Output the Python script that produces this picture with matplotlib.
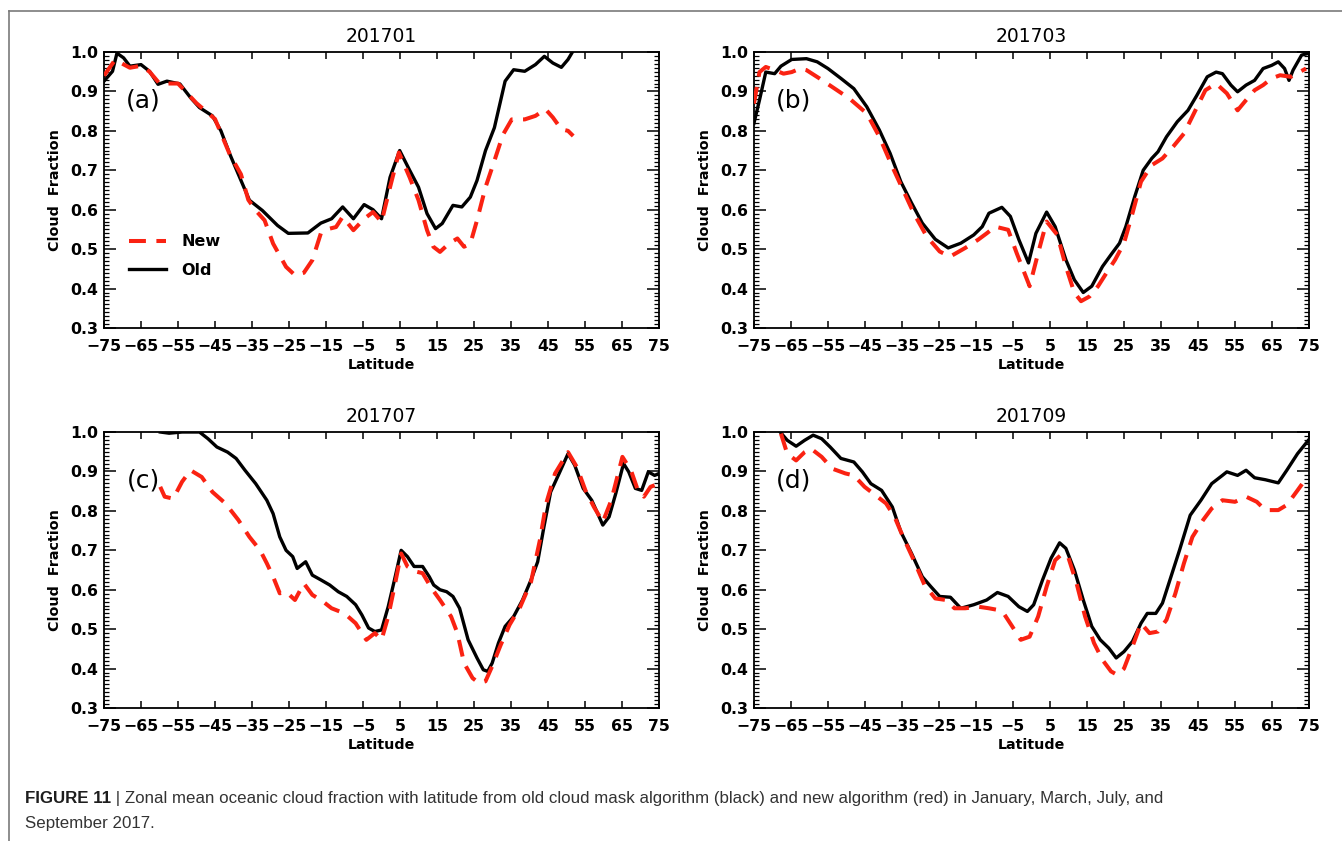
import matplotlib
matplotlib.use("Agg")
import matplotlib.pyplot as plt
from matplotlib.lines import Line2D
from matplotlib.ticker import MultipleLocator

plt.rcParams['font.family'] = ['DejaVu Sans']
plt.rcParams['axes.unicode_minus'] = True

# ---- data (latitude, cloud fraction) ----
titles = ["201701", "201703", "201707", "201709"]
panel_tags = ["(a)", "(b)", "(c)", "(d)"]

# 201701
lat_a_old = [-75, -72.7, -71.5, -69.7, -68, -65, -62.7, -60.4, -58, -54.5, -51.6, -49.2, -45.7, -43.4,
             -41, -38.7, -35.7, -32.2, -28.1, -25.2, -19.9, -16.4, -13.5, -10.5, -7.6, -4.7, -2.3, 0,
             2.3, 4.9, 7.6, 10, 12.3, 14.6, 16.4, 19.3, 21.7, 24, 25.8, 28.1, 30.5, 33.4, 35.7, 38.7,
             41.6, 44, 46.3, 48.6, 50.4, 51.6]
cf_a_old = [0.926, 0.951, 0.997, 0.985, 0.964, 0.968, 0.951, 0.918, 0.926, 0.919, 0.884, 0.859, 0.838, 0.80,
            0.741, 0.69, 0.624, 0.598, 0.56, 0.54, 0.541, 0.566, 0.577, 0.607, 0.577, 0.613, 0.60, 0.577,
            0.682, 0.75, 0.70, 0.657, 0.59, 0.552, 0.565, 0.611, 0.607, 0.632, 0.674, 0.75, 0.808, 0.926,
            0.955, 0.951, 0.968, 0.989, 0.972, 0.961, 0.981, 1.0]
lat_a_new = [-75, -72, -68, -65, -62.7, -60, -55, -50, -45, -41, -38, -36, -34, -31.6, -29.3, -25.8,
             -23.4, -21, -18.7, -16.4, -14, -12.3, -10.5, -7.6, -4.7, -2.3, 0, 2.3, 4.7, 7.6, 10, 12.3,
             14, 15.8, 18.2, 20.5, 22.3, 24, 25.8, 28.1, 30.5, 32.8, 35.2, 38.7, 41.6, 44.3, 46.3, 48.6,
             50.4, 51.8]
cf_a_new = [0.94, 0.98, 0.96, 0.965, 0.95, 0.92, 0.92, 0.87, 0.83, 0.74, 0.69, 0.625, 0.598, 0.573, 0.514,
            0.455, 0.434, 0.44, 0.472, 0.54, 0.552, 0.556, 0.582, 0.548, 0.577, 0.594, 0.569, 0.657, 0.745,
            0.682, 0.624, 0.548, 0.506, 0.493, 0.514, 0.527, 0.506, 0.514, 0.573, 0.657, 0.724, 0.79,
            0.829, 0.829, 0.838, 0.855, 0.834, 0.804, 0.80, 0.787]

# 201703
lat_b_old = [-75, -73.5, -71.8, -69.4, -67.7, -64.8, -60.8, -57.9, -55, -51.5, -48, -44.5, -41.1, -38.2,
             -35.3, -32.4, -29.5, -26, -22.5, -19.1, -15.6, -13.3, -11.5, -8, -5.7, -3.4, -0.8, 1.2, 4.1,
             6.4, 9.3, 11.6, 14, 16.3, 19.2, 21.5, 23.8, 25.5, 27.9, 30.2, 32.5, 34.2, 36.5, 39.4, 42.3,
             44.7, 47.5, 49.9, 51.6, 53.9, 55.7, 58, 60.3, 62.6, 64.9, 66.7, 68.4, 69.6, 70.7, 73, 75]
cf_b_old = [0.819, 0.878, 0.949, 0.945, 0.964, 0.981, 0.983, 0.975, 0.958, 0.933, 0.907, 0.861, 0.802, 0.743,
            0.671, 0.617, 0.566, 0.525, 0.503, 0.515, 0.536, 0.557, 0.591, 0.606, 0.583, 0.524, 0.465, 0.54,
            0.594, 0.557, 0.473, 0.422, 0.39, 0.406, 0.456, 0.486, 0.515, 0.557, 0.633, 0.70, 0.73, 0.747,
            0.785, 0.823, 0.852, 0.89, 0.937, 0.949, 0.945, 0.916, 0.899, 0.916, 0.928, 0.958, 0.966, 0.975,
            0.958, 0.928, 0.954, 0.992, 0.997]
lat_b_new = [-75, -73.5, -71.8, -69.4, -67, -64.8, -62.5, -60.8, -57.3, -53.8, -49.2, -44.5, -41.1, -37.6,
             -34.7, -31.8, -28.3, -24.8, -22, -17.9, -14.4, -12.1, -9.8, -6.3, -4, -0.5, 1.8, 4.1, 7, 9.3,
             11.6, 13.4, 15.7, 18, 20.3, 22.6, 25, 27.3, 29.6, 32.5, 35.4, 38.3, 41.2, 44.1, 47, 49.9, 52.8,
             55.7, 58, 60.3, 62.6, 64.9, 67.2, 70.1, 72.4, 74.2]
cf_b_new = [0.869, 0.949, 0.962, 0.954, 0.945, 0.949, 0.958, 0.954, 0.933, 0.911, 0.882, 0.844, 0.785, 0.709,
            0.65, 0.591, 0.532, 0.494, 0.481, 0.503, 0.524, 0.54, 0.557, 0.549, 0.49, 0.406, 0.49, 0.57,
            0.536, 0.456, 0.389, 0.368, 0.38, 0.406, 0.44, 0.473, 0.515, 0.591, 0.671, 0.713, 0.73, 0.76,
            0.793, 0.848, 0.903, 0.92, 0.895, 0.852, 0.878, 0.903, 0.916, 0.933, 0.941, 0.937, 0.949, 0.958]

# 201707
lat_c_old = [-59.8, -57.4, -53.9, -49.2, -46.9, -44.5, -41.6, -39.3, -36.9, -34, -31, -29.3, -27.5, -25.8,
             -24, -22.8, -20.5, -18.7, -16.4, -14, -11.7, -9.4, -7, -5.3, -3.5, -1.8, 0, 1.8, 3.5, 5.3, 7,
             8.8, 11.1, 12.9, 14.1, 15.8, 17.6, 19.3, 21.1, 23.4, 25.8, 27.5, 28.7, 29.9, 31.6, 33.4, 35.7,
             38.1, 40.4, 42.2, 43.9, 45.7, 48, 50.4, 52.2, 54.5, 56.8, 58, 59.8, 61.5, 63.3, 65.4, 66.8,
             68.6, 70.3, 72.1, 73.8, 75]
cf_c_old = [1.0, 0.997, 1.0, 1.0, 0.983, 0.962, 0.949, 0.933, 0.903, 0.869, 0.827, 0.793, 0.734, 0.70,
            0.684, 0.654, 0.671, 0.637, 0.625, 0.612, 0.595, 0.583, 0.562, 0.536, 0.503, 0.494, 0.498, 0.557,
            0.625, 0.70, 0.684, 0.659, 0.659, 0.633, 0.612, 0.60, 0.595, 0.583, 0.553, 0.473, 0.427, 0.397,
            0.393, 0.414, 0.465, 0.507, 0.532, 0.574, 0.625, 0.671, 0.76, 0.848, 0.895, 0.945, 0.916, 0.857,
            0.827, 0.802, 0.764, 0.785, 0.844, 0.92, 0.899, 0.857, 0.852, 0.899, 0.89, 0.895]
lat_c_new = [-59.8, -58.6, -56.3, -53.9, -51.6, -48.6, -45.7, -42.2, -38.7, -35.7, -32.8, -31, -29.3, -27.5,
             -25.8, -23.4, -21, -18.7, -15.8, -13.5, -10, -7, -4.1, -1.8, 0, 1.8, 3.5, 5.3, 7, 9.4, 11.1,
             13.5, 15.8, 18.8, 20.5, 22.3, 24.6, 26.4, 28.1, 29.9, 32.2, 34.6, 37.5, 40.4, 42.8, 44.5, 46.9,
             50.4, 52.8, 55.1, 57.4, 59.8, 62.1, 65.1, 67.4, 69.1, 70.9, 72.7, 73.8]
cf_c_new = [0.861, 0.836, 0.831, 0.874, 0.903, 0.886, 0.848, 0.819, 0.777, 0.734, 0.70, 0.667, 0.633, 0.591,
            0.595, 0.574, 0.616, 0.587, 0.57, 0.553, 0.54, 0.515, 0.473, 0.49, 0.473, 0.532, 0.608, 0.692,
            0.659, 0.646, 0.642, 0.604, 0.574, 0.532, 0.49, 0.414, 0.376, 0.363, 0.368, 0.406, 0.46, 0.511,
            0.557, 0.62, 0.726, 0.819, 0.895, 0.949, 0.911, 0.852, 0.81, 0.772, 0.827, 0.937, 0.903, 0.857,
            0.836, 0.861, 0.865]

# 201709
lat_d_old = [-67.9, -66, -63.6, -61.3, -59, -56.7, -54.4, -51.5, -48, -45.7, -43.4, -40.5, -37.6, -35.3,
             -32.4, -29.5, -27.2, -24.8, -21.9, -19.1, -15.6, -12.1, -9.2, -6.3, -3.4, -1.1, 0.6, 3, 5.3,
             7.6, 9.3, 11.6, 14, 16.3, 18.6, 20.9, 22.9, 25, 27.3, 29.6, 31.3, 33.6, 35.4, 37.7, 40, 42.9,
             45.8, 48.7, 51.6, 52.8, 55.7, 58, 60.3, 63.2, 66.7, 69, 71.9, 75]
cf_d_old = [1.0, 0.979, 0.964, 0.979, 0.992, 0.983, 0.962, 0.933, 0.924, 0.899, 0.869, 0.852, 0.81, 0.747,
            0.692, 0.633, 0.608, 0.583, 0.581, 0.553, 0.562, 0.574, 0.593, 0.583, 0.557, 0.545, 0.562, 0.625,
            0.68, 0.719, 0.705, 0.65, 0.574, 0.507, 0.473, 0.452, 0.427, 0.443, 0.469, 0.515, 0.54, 0.54,
            0.566, 0.633, 0.70, 0.789, 0.827, 0.869, 0.89, 0.899, 0.89, 0.903, 0.884, 0.879, 0.871, 0.903,
            0.945, 0.981]
lat_d_new = [-67.7, -66, -63.6, -61.3, -59.6, -56.7, -53.8, -50.3, -48, -45.1, -42.2, -39.3, -37, -34.7,
             -31.8, -28.9, -26, -23.1, -20.8, -17.9, -14.4, -11.5, -9.2, -7.5, -5.2, -2.9, -0.5, 1.8, 4.1,
             6.4, 8.2, 9.9, 12.2, 14.5, 16.9, 19.2, 21.5, 23.2, 25, 27.3, 29.6, 31.9, 34.2, 36.5, 38.9, 41.2,
             43.5, 46.4, 48.7, 51.6, 55, 58, 60.9, 63.2, 66.7, 69, 71.9, 74.2]
cf_d_new = [0.996, 0.945, 0.928, 0.949, 0.958, 0.937, 0.907, 0.895, 0.89, 0.861, 0.84, 0.819, 0.785, 0.734,
            0.675, 0.612, 0.578, 0.574, 0.553, 0.553, 0.557, 0.553, 0.549, 0.54, 0.507, 0.473, 0.481, 0.532,
            0.608, 0.675, 0.69, 0.684, 0.616, 0.532, 0.465, 0.422, 0.393, 0.384, 0.40, 0.456, 0.515, 0.49,
            0.494, 0.524, 0.591, 0.667, 0.734, 0.777, 0.806, 0.827, 0.823, 0.836, 0.823, 0.802, 0.802, 0.815,
            0.852, 0.882]

old_lats = [lat_a_old, lat_b_old, lat_c_old, lat_d_old]
old_vals = [cf_a_old, cf_b_old, cf_c_old, cf_d_old]
new_lats = [lat_a_new, lat_b_new, lat_c_new, lat_d_new]
new_vals = [cf_a_new, cf_b_new, cf_c_new, cf_d_new]

xticks = list(range(-75, 76, 10))
yticks = [0.3, 0.4, 0.5, 0.6, 0.7, 0.8, 0.9, 1.0]

RED = '#fa2212'

fig = plt.figure(figsize=(13.42, 8.41), dpi=100)

# axes boxes in figure fractions: left, bottom, width, height
boxes = [[0.0775, 0.610, 0.4136, 0.3282],
         [0.5618, 0.610, 0.4136, 0.3282],
         [0.0775, 0.1581, 0.4136, 0.3282],
         [0.5618, 0.1581, 0.4136, 0.3282]]

for i in range(4):
    ax = fig.add_axes(boxes[i])
    ax.plot(old_lats[i], old_vals[i], color='black', lw=2.4, label='Old', zorder=3)
    ax.plot(new_lats[i], new_vals[i], color=RED, lw=2.9, dashes=(4.2, 2.6), label='New', zorder=4)

    ax.set_xlim(-75, 75)
    ax.set_ylim(0.3, 1.0)
    ax.set_xticks(xticks)
    ax.set_yticks(yticks)
    ax.set_yticklabels([f"{v:.1f}" for v in yticks])
    ax.yaxis.set_minor_locator(MultipleLocator(0.01))
    ax.tick_params(axis='x', which='major', direction='in', top=True, length=5, width=1.1,
                   pad=8, labelsize=11.3)
    ax.tick_params(axis='y', which='major', direction='in', right=True, length=8.5, width=1.1,
                   pad=4, labelsize=11.3)
    ax.tick_params(axis='y', which='minor', direction='in', right=True, length=3.8, width=0.9)
    for lab in ax.get_xticklabels() + ax.get_yticklabels():
        lab.set_fontweight('bold')
    for s in ax.spines.values():
        s.set_linewidth(1.3)

    ax.set_title(titles[i], fontsize=13.5, pad=7)
    ax.set_xlabel('Latitude', fontsize=10.3, fontweight='bold', labelpad=3)
    ax.set_ylabel('Cloud  Fraction', fontsize=10.3, fontweight='bold', labelpad=6)
    ax.text(-64.4, 0.878, panel_tags[i], fontsize=18, ha='center', va='center')

    if i == 0:
        handles, labels = ax.get_legend_handles_labels()
        ax.legend(handles[::-1], labels[::-1], loc='upper left', bbox_to_anchor=(0.045, 0.34),
                  frameon=False, borderpad=0, borderaxespad=0, handlelength=2.3,
                  handletextpad=1.0, labelspacing=0.85, prop={'weight': 'bold', 'size': 11.5})

# thin grey frame of the figure page (top and left edges)
fig.add_artist(Line2D([9 / 1342, 1], [1 - 11 / 841, 1 - 11 / 841], color='#7a7a7a', lw=1.2))
fig.add_artist(Line2D([9 / 1342, 9 / 1342], [0, 1 - 11 / 841], color='#7a7a7a', lw=1.2))

# caption
cap_font = ['Liberation Sans', 'DejaVu Sans']
t1 = fig.text(25 / 1342, 1 - 806 / 841, 'FIGURE 11', fontsize=12.2, fontweight='bold',
              family=cap_font, color='#1e1e1e', va='bottom')
plt.annotate(' | Zonal mean oceanic cloud fraction with latitude from old cloud mask algorithm (black) '
             'and new algorithm (red) in January, March, July, and',
             xy=(1, 0), xycoords=t1, va='bottom', ha='left', fontsize=12.2, family=cap_font,
             color='#333333', annotation_clip=False)
fig.text(25 / 1342, 1 - 831 / 841, 'September 2017.', fontsize=12.2, family=cap_font,
         color='#333333', va='bottom')

fig.savefig('out.png', dpi=100)
